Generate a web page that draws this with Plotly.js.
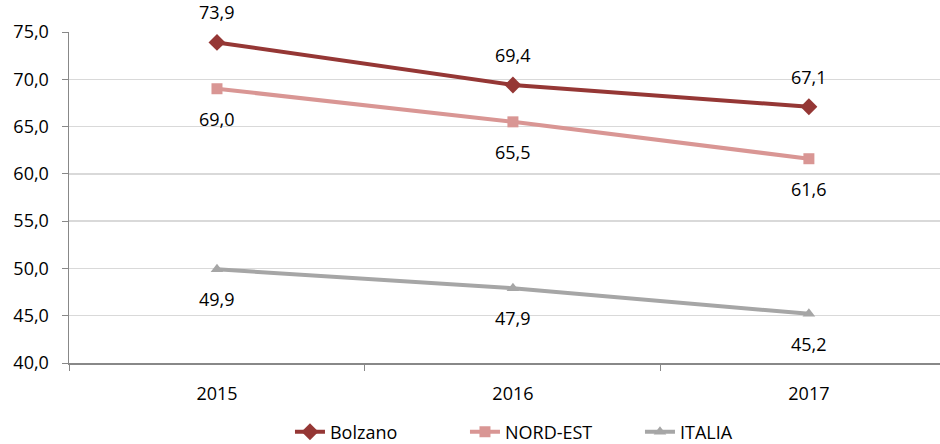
<!DOCTYPE html>
<html>
<head>
<meta charset="utf-8">
<script src="https://cdn.plot.ly/plotly-3.0.1.min.js"></script>
<style>
  html, body { margin: 0; padding: 0; background: #fff; overflow: hidden; }
  #chart { width: 940px; height: 444px; }
</style>
</head>
<body>
<div id="chart"></div>
<script>
// Years on the category axis
const years = ['2015', '2016', '2017'];

// Series values (percent)
const bolzano = [73.9, 69.4, 67.1];
const nordEst = [69.0, 65.5, 61.6];
const italia  = [49.9, 47.9, 45.2];

const seriesNames = ['Bolzano', 'NORD-EST', 'ITALIA'];
const seriesColors = ['#953735', '#D99694', '#A6A6A6'];
const seriesSymbols = ['diamond', 'square', 'triangle-up'];
const seriesValues = [bolzano, nordEst, italia];
// Value labels sit above the dark line and below the other two
const labelShift = [30, -30, -30];

const FONT = '"Open Sans", "DejaVu Sans", sans-serif';
const FS = 18;
const fmt = v => v.toFixed(1).replace('.', ',');

const traces = seriesValues.map((vals, i) => ({
  type: 'scatter',
  mode: 'lines+markers',
  name: seriesNames[i],
  x: years,
  y: vals,
  line: { color: seriesColors[i], width: 4 },
  marker: { color: seriesColors[i], symbol: seriesSymbols[i], size: i === 0 ? 13 : 11 },
  hoverinfo: 'skip'
}));

// Category positions are referenced by index so numeric-looking years stay categories
const annotations = [];
seriesValues.forEach((vals, i) => {
  vals.forEach((v, j) => {
    annotations.push({
      x: j, y: v, xref: 'x', yref: 'y',
      text: fmt(v), showarrow: false,
      yshift: labelShift[i],
      font: { family: FONT, size: FS, color: '#000' }
    });
  });
});

const layout = {
  width: 940,
  height: 444,
  margin: { l: 69, r: 0, t: 32, b: 81, autoexpand: false },
  paper_bgcolor: '#fff',
  plot_bgcolor: '#fff',
  font: { family: FONT, size: FS, color: '#000' },
  showlegend: true,
  legend: {
    orientation: 'h',
    x: 0.2537, xanchor: 'left',
    y: -0.2085, yanchor: 'middle',
    entrywidth: 130,
    entrywidthmode: 'pixels',
    font: { family: FONT, size: FS, color: '#000' },
    tracegroupgap: 0
  },
  xaxis: {
    type: 'category',
    range: [-0.5, 2.443],
    tickson: 'boundaries',
    ticks: 'outside',
    ticklen: 6,
    tickcolor: '#888',
    tickwidth: 1,
    showline: true,
    linecolor: '#888',
    linewidth: 1.5,
    showgrid: false,
    zeroline: false,
    fixedrange: true,
    automargin: false,
    ticklabelstandoff: 14,
    tickfont: { family: FONT, size: FS, color: '#000' }
  },
  yaxis: {
    range: [40, 75],
    dtick: 5,
    tick0: 40,
    tickformat: '.1f',
    ticks: 'outside',
    ticklen: 6,
    tickcolor: '#888',
    showline: true,
    linecolor: '#888',
    linewidth: 1.5,
    showgrid: true,
    gridcolor: '#D9D9D9',
    gridwidth: 1.5,
    zeroline: false,
    fixedrange: true,
    automargin: false,
    ticklabelstandoff: 9,
    tickfont: { family: FONT, size: FS, color: '#000' }
  },
  separators: ',.',
  annotations: annotations
};

Plotly.newPlot('chart', traces, layout, { displayModeBar: false, staticPlot: true });
</script>
</body>
</html>
